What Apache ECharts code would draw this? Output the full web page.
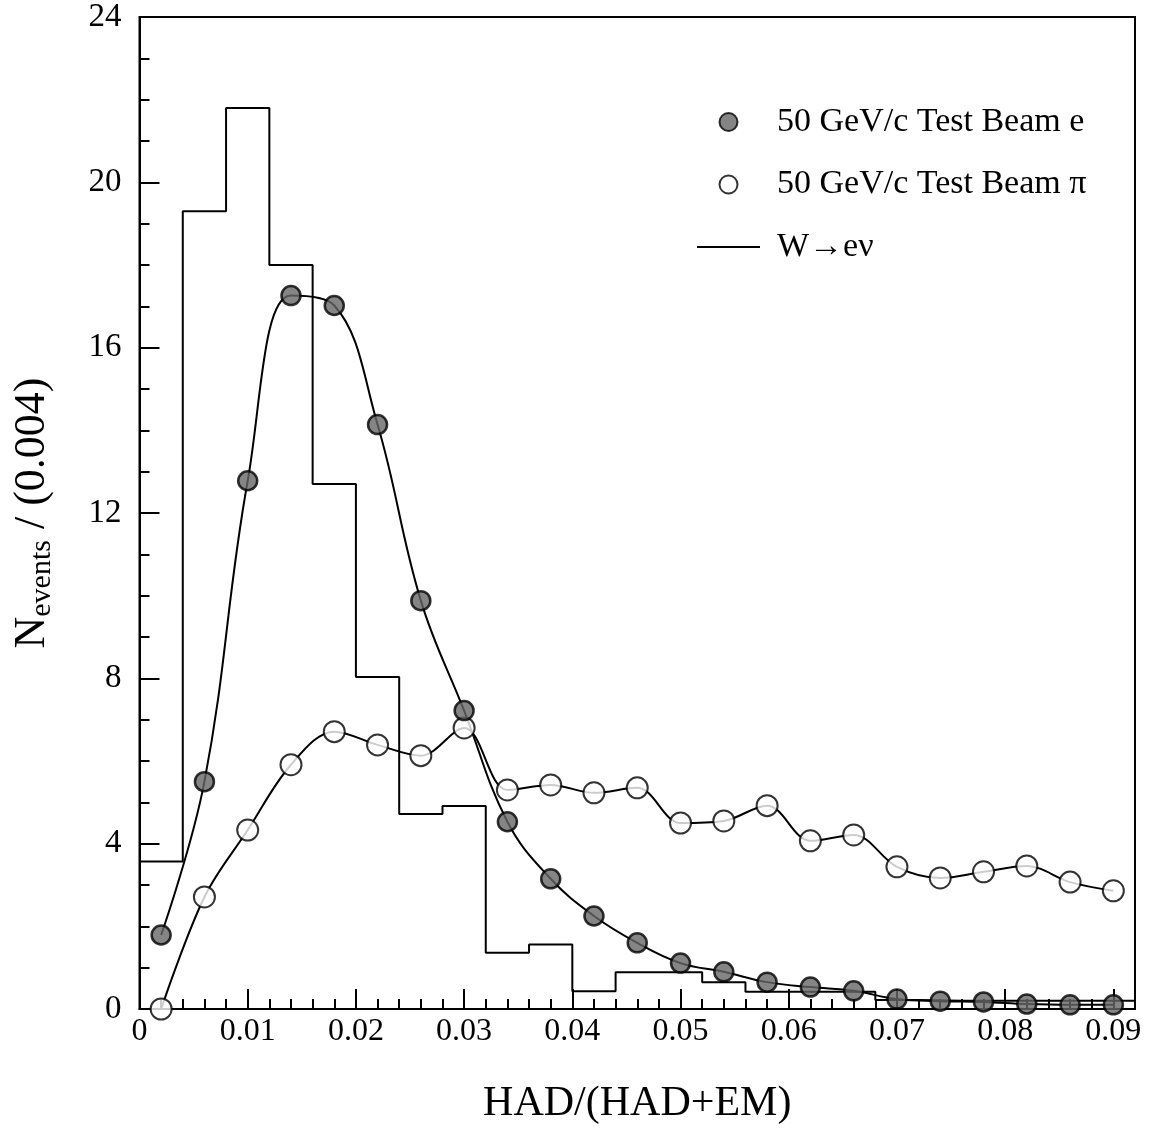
<!DOCTYPE html>
<html><head><meta charset="utf-8">
<script src="https://cdn.jsdelivr.net/npm/echarts@6/dist/echarts.min.js"></script>
<style>html,body{margin:0;padding:0;background:#fff}#c{width:1157px;height:1130px}</style>
</head><body><div id="c"></div>
<script>
// bin centres (bin width 0.004)
const binCenters = [0.002,0.006,0.010,0.014,0.018,0.022,0.026,0.030,0.034,0.038,0.042,0.046,0.050,0.054,0.058,0.062,0.066,0.070,0.074,0.078,0.082,0.086,0.090];
// 50 GeV/c test beam electrons
const electronCounts = [1.79,5.50,12.78,17.26,17.02,14.14,9.88,7.22,4.53,3.15,2.25,1.60,1.11,0.90,0.65,0.53,0.44,0.24,0.19,0.17,0.12,0.10,0.10];
// 50 GeV/c test beam pions
const pionCounts = [0.00,2.71,4.33,5.91,6.71,6.39,6.13,6.80,5.30,5.42,5.23,5.35,4.50,4.55,4.92,4.07,4.21,3.44,3.17,3.32,3.46,3.07,2.86];
// W -> e nu histogram: left bin edges and contents (last edge closes the histogram)
const histEdges = [0.000,0.004,0.008,0.012,0.016,0.020,0.024,0.028,0.032,0.036,0.040,0.044,0.048,0.052,0.056,0.060,0.064,0.068,0.072,0.076,0.080,0.084,0.088,0.092];
const wCounts = [3.57,19.3,21.8,18.0,12.7,8.03,4.72,4.91,1.36,1.56,0.43,0.89,0.89,0.65,0.42,0.42,0.42,0.22,0.20,0.20,0.20,0.20,0.20,0.20];
const xTickLabels = ['0','0.01','0.02','0.03','0.04','0.05','0.06','0.07','0.08','0.09'];
const yTickLabels = ['0','4','8','12','16','20','24'];

const FONT = 'Liberation Serif';
const chart = echarts.init(document.getElementById('c'), null, {renderer: 'canvas'});

const histData = histEdges.map((x, i) => [x, wCounts[i]]);
const eData = binCenters.map((x, i) => [x, electronCounts[i]]);
const piData = binCenters.map((x, i) => [x, pionCounts[i]]);

function xLabel(v) {
  const k = Math.round(v / 0.01);
  if (Math.abs(v - k * 0.01) > 1e-6 || k < 0 || k >= xTickLabels.length) return '';
  return xTickLabels[k];
}
function yLabel(v) {
  const k = Math.round(v / 4);
  if (Math.abs(v - k * 4) > 1e-6 || k < 0 || k >= yTickLabels.length) return '';
  return yTickLabels[k];
}

const option = {
  backgroundColor: '#fff',
  animation: false,
  grid: {left: 133, right: 22, top: 17, bottom: 120, show: true, borderColor: '#000', borderWidth: 2, backgroundColor: 'transparent'},
  legend: {
    orient: 'vertical', left: 697, top: 105, padding: 0,
    itemWidth: 63, itemHeight: 18, itemGap: 28.5,
    data: [
      {name: '50 GeV/c Test Beam e'},
      {name: '50 GeV/c Test Beam π'},
      {name: 'W→eν', icon: 'path://M0,0 L63,0 L63,2 L0,2 Z'}
    ],
    textStyle: {fontFamily: FONT, fontSize: 34, color: '#000', padding: [0, 0, 0, 12]}
  },
  xAxis: [{
    type: 'value', min: 0, max: 0.092, interval: 0.01,
    name: 'HAD/(HAD+EM)', nameLocation: 'middle', nameGap: 74,
    nameTextStyle: {fontFamily: FONT, fontSize: 42, color: '#000'},
    axisLine: {show: true, lineStyle: {color: '#000', width: 2}},
    axisTick: {show: true, inside: true, length: 20, lineStyle: {color: '#000', width: 2}},
    axisLabel: {fontFamily: FONT, fontSize: 32, color: '#000', margin: 7, formatter: xLabel, showMaxLabel: false},
    splitLine: {show: false}
  }, {
    type: 'value', min: 0, max: 0.092, interval: 0.002, position: 'bottom',
    axisLine: {show: false},
    axisTick: {show: true, inside: true, length: 10, lineStyle: {color: '#000', width: 2}},
    axisLabel: {show: false},
    splitLine: {show: false}
  }],
  yAxis: {
    type: 'value', min: 0, max: 24, interval: 4,
    name: '{n|N}{s|events}{n| / (0.004)}', nameLocation: 'middle', nameGap: 85, nameRotate: 90,
    nameTextStyle: {
      fontFamily: FONT, color: '#000',
      rich: {
        n: {fontFamily: FONT, fontSize: 44, lineHeight: 44, verticalAlign: 'top', color: '#000'},
        s: {fontFamily: FONT, fontSize: 30, lineHeight: 30, padding: [19, 0, 0, 0], color: '#000'}
      }
    },
    axisLine: {show: true, lineStyle: {color: '#000', width: 2}},
    axisTick: {show: true, inside: true, length: 20, lineStyle: {color: '#000', width: 2}},
    minorTick: {show: true, splitNumber: 4, length: 10, lineStyle: {color: '#000', width: 2}},
    axisLabel: {fontFamily: FONT, fontSize: 33, color: '#000', margin: 18, formatter: yLabel},
    splitLine: {show: false}, minorSplitLine: {show: false}
  },
  series: [
    {
      name: 'W→eν', type: 'line', step: 'end', data: histData, symbol: 'none',
      lineStyle: {color: '#000', width: 2}, itemStyle: {color: '#000'}, z: 2
    },
    {
      name: 'eCurve', type: 'line', data: eData, smooth: 0.4, symbol: 'none',
      lineStyle: {color: '#000', width: 2}, z: 3
    },
    {
      name: 'piCurve', type: 'line', data: piData, smooth: 0.35, symbol: 'none',
      lineStyle: {color: '#000', width: 2}, z: 3
    },
    {
      name: '50 GeV/c Test Beam π', type: 'scatter', data: piData, symbol: 'circle', symbolSize: 21,
      itemStyle: {color: '#fff', borderColor: '#000', borderWidth: 2}, z: 4
    },
    {
      name: '50 GeV/c Test Beam e', type: 'scatter', data: eData, symbol: 'circle', symbolSize: 19,
      itemStyle: {color: '#666', borderColor: '#000', borderWidth: 2.5}, z: 5
    }
  ]
};
chart.setOption(option);
</script></body></html>
